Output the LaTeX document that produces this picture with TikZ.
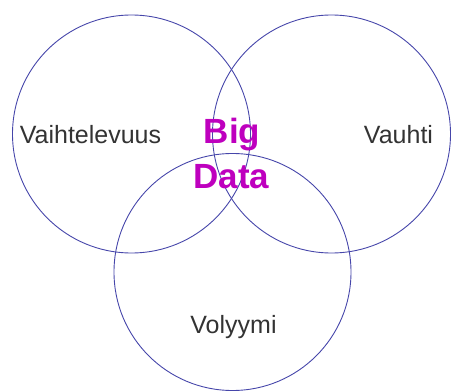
\documentclass[tikz,border=0pt]{standalone}
\usepackage{fontspec}
\setmainfont{Liberation Sans}
\definecolor{ringblue}{RGB}{70,70,170}
\definecolor{bigmag}{RGB}{190,0,190}
\definecolor{txtgray}{RGB}{51,51,51}
\tikzset{
  ring/.style={draw=ringblue, line width=0.9pt, circle, minimum size=238pt, inner sep=0pt},
  lbl/.style={text=txtgray, inner sep=0pt, anchor=base, font=\fontsize{25}{30}\selectfont},
  bigtxt/.style={text=bigmag, inner sep=0pt, anchor=base, font=\fontsize{35}{42}\selectfont\bfseries}
}
\begin{document}
\begin{tikzpicture}[x=1pt,y=-1pt]
\useasboundingbox (0,0) rectangle (451,391);
\node[ring] (cl) at (131.5,134) {};
\node[ring] (cr) at (331.5,134) {};
\node[ring, minimum size=237pt] (cb) at (232.5,272) {};
\node[lbl] (vaiht) at (90.5,143) {Vaihtelevuus};
\node[lbl] (vauhti) at (398.5,143) {Vauhti};
\node[lbl] (volyymi) at (233.5,333) {Volyymi};
\node[bigtxt] (big) at (232,143) {Big};
\node[bigtxt] (data) at (231.5,188) {Data};
\end{tikzpicture}
\end{document}
